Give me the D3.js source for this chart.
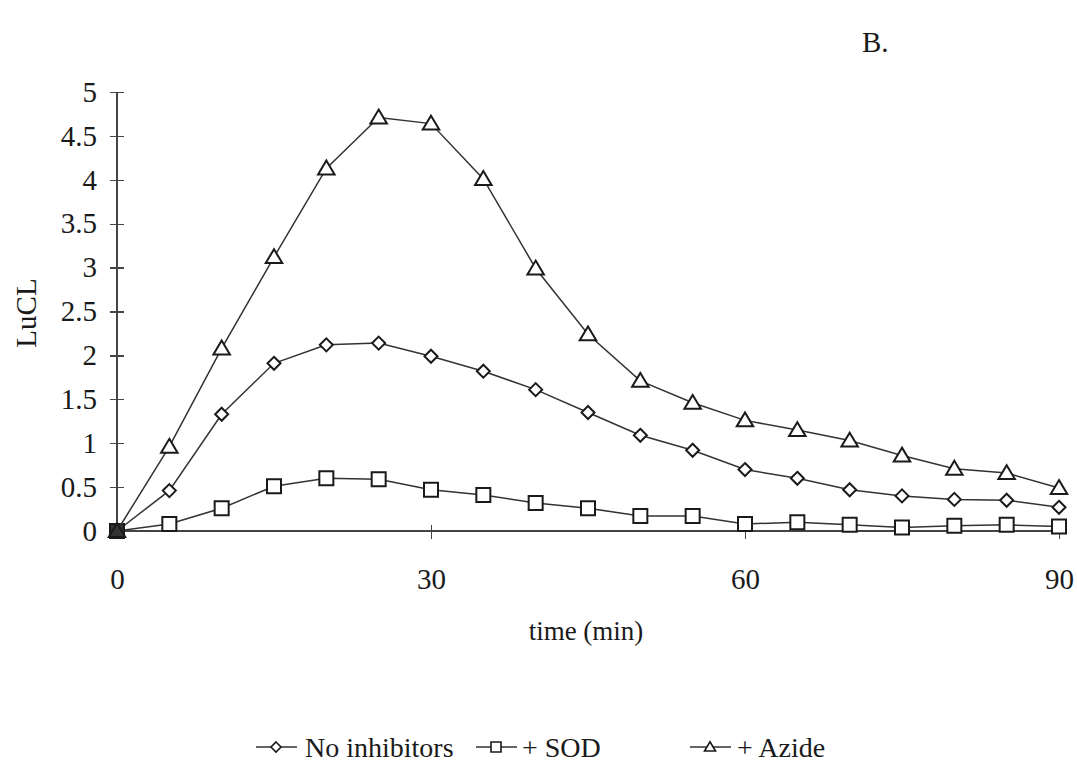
<!DOCTYPE html>
<html>
<head>
<meta charset="utf-8">
<script src="https://cdn.jsdelivr.net/npm/d3@7"></script>
<style>
  html, body { margin: 0; padding: 0; background: #fff; }
</style>
</head>
<body>
<svg id="chart" width="1077" height="765"></svg>
<script>
// ---- Data ------------------------------------------------------------------
var times = [0, 5, 10, 15, 20, 25, 30, 35, 40, 45, 50, 55, 60, 65, 70, 75, 80, 85, 90];
var noInhibitors = [0, 0.46, 1.33, 1.91, 2.12, 2.14, 1.99, 1.82, 1.61, 1.35, 1.09, 0.92, 0.70, 0.60, 0.47, 0.40, 0.36, 0.35, 0.27];
var plusSOD = [0, 0.08, 0.26, 0.51, 0.60, 0.59, 0.47, 0.41, 0.32, 0.26, 0.17, 0.17, 0.08, 0.10, 0.07, 0.04, 0.06, 0.07, 0.05];
var plusAzide = [0, 0.96, 2.08, 3.12, 4.13, 4.71, 4.64, 4.01, 2.99, 2.24, 1.71, 1.46, 1.26, 1.15, 1.03, 0.86, 0.71, 0.66, 0.49];
var xTicks = [0, 30, 60, 90];
var yTicks = [0, 0.5, 1, 1.5, 2, 2.5, 3, 3.5, 4, 4.5, 5];

var seriesNames = ['No inhibitors', '+ SOD', '+ Azide'];
var seriesValues = [noInhibitors, plusSOD, plusAzide];
var seriesShapes = ['diamond', 'square', 'triangle'];

// ---- Layout ----------------------------------------------------------------
var FONT = 'Liberation Serif';
var ink = '#1a1a1a';

var svg = d3.select('#chart');
var x = d3.scaleLinear().domain([0, 90]).range([117, 1059]);
var y = d3.scaleLinear().domain([0, 5]).range([531, 92]);

function markerPath(shape, s) {
  // s = half size
  if (shape === 'diamond') return 'M0,' + (-s) + 'L' + s + ',0L0,' + s + 'L' + (-s) + ',0Z';
  if (shape === 'square') return 'M' + (-s) + ',' + (-s) + 'H' + s + 'V' + s + 'H' + (-s) + 'Z';
  return 'M0,' + (-s * 1.05) + 'L' + (s * 1.1) + ',' + (s * 0.8) + 'H' + (-s * 1.1) + 'Z';
}
var markerSize = { diamond: 6.5, square: 7, triangle: 7.5 };

// ---- Axes ------------------------------------------------------------------
var xAxis = d3.axisBottom(x).tickValues(xTicks).tickSize(0).tickPadding(37).tickFormat(d3.format('d'));
var gx = svg.append('g').attr('transform', 'translate(0,' + y(0) + ')').call(xAxis);
gx.select('.domain').attr('d', 'M' + x(0) + ',0H1062').attr('stroke', '#444').attr('stroke-width', 1.6);
gx.selectAll('.tick').append('line').attr('y1', -6).attr('y2', 8).attr('stroke', '#444').attr('stroke-width', 1.3);

var yAxis = d3.axisLeft(y).tickValues(yTicks).tickSize(0).tickPadding(20).tickFormat(function(d) { return String(d); });
var gy = svg.append('g').attr('transform', 'translate(' + x(0) + ',0)').call(yAxis);
gy.select('.domain').attr('d', 'M0,' + y(5) + 'V' + y(0)).attr('stroke', '#444').attr('stroke-width', 1.6);
gy.selectAll('.tick').append('line').attr('x1', -7).attr('x2', 7).attr('stroke', '#444').attr('stroke-width', 1.3);
svg.selectAll('.domain, .tick line').attr('shape-rendering', 'crispEdges');
svg.selectAll('.tick text').attr('font-family', FONT).attr('font-size', 29).attr('fill', ink);

// ---- Series ----------------------------------------------------------------
var line = d3.line().x(function(d) { return x(d[0]); }).y(function(d) { return y(d[1]); });

seriesValues.forEach(function(vals, i) {
  var pts = times.map(function(t, k) { return [t, vals[k]]; });
  svg.append('path').attr('d', line(pts)).attr('fill', 'none')
    .attr('stroke', '#333').attr('stroke-width', 1.5);
  svg.append('g').selectAll('path').data(pts).enter().append('path')
    .attr('transform', function(d) { return 'translate(' + x(d[0]) + ',' + y(d[1]) + ')'; })
    .attr('d', markerPath(seriesShapes[i], markerSize[seriesShapes[i]]))
    .attr('fill', function(d) { return d[0] === 0 ? '#333' : '#fff'; })
    .attr('stroke', ink).attr('stroke-width', 2);
});

// ---- Labels ----------------------------------------------------------------
svg.append('text').attr('x', 586).attr('y', 640).attr('text-anchor', 'middle')
  .attr('font-family', FONT).attr('font-size', 27).attr('fill', ink).text('time (min)');
svg.append('text').attr('transform', 'translate(36,313) rotate(-90)').attr('text-anchor', 'middle')
  .attr('font-family', FONT).attr('font-size', 29).attr('fill', ink).text('LuCL');
svg.append('text').attr('x', 862).attr('y', 52)
  .attr('font-family', FONT).attr('font-size', 29).attr('fill', ink).text('B.');

// ---- Legend ----------------------------------------------------------------
var legendItems = [
  { x: 256, tx: 305 },
  { x: 476, tx: 522 },
  { x: 690, tx: 737 }
];
legendItems.forEach(function(it, i) {
  var g = svg.append('g').attr('transform', 'translate(' + it.x + ',747)');
  g.append('line').attr('x1', 0).attr('x2', 41).attr('stroke', '#333').attr('stroke-width', 1.5);
  g.append('path').attr('transform', 'translate(20,0)')
    .attr('d', markerPath(seriesShapes[i], 5))
    .attr('fill', '#fff').attr('stroke', ink).attr('stroke-width', 1.6);
  svg.append('text').attr('x', it.tx).attr('y', 757)
    .attr('font-family', FONT).attr('font-size', 28).attr('fill', ink).text(seriesNames[i]);
});
</script>
</body>
</html>
